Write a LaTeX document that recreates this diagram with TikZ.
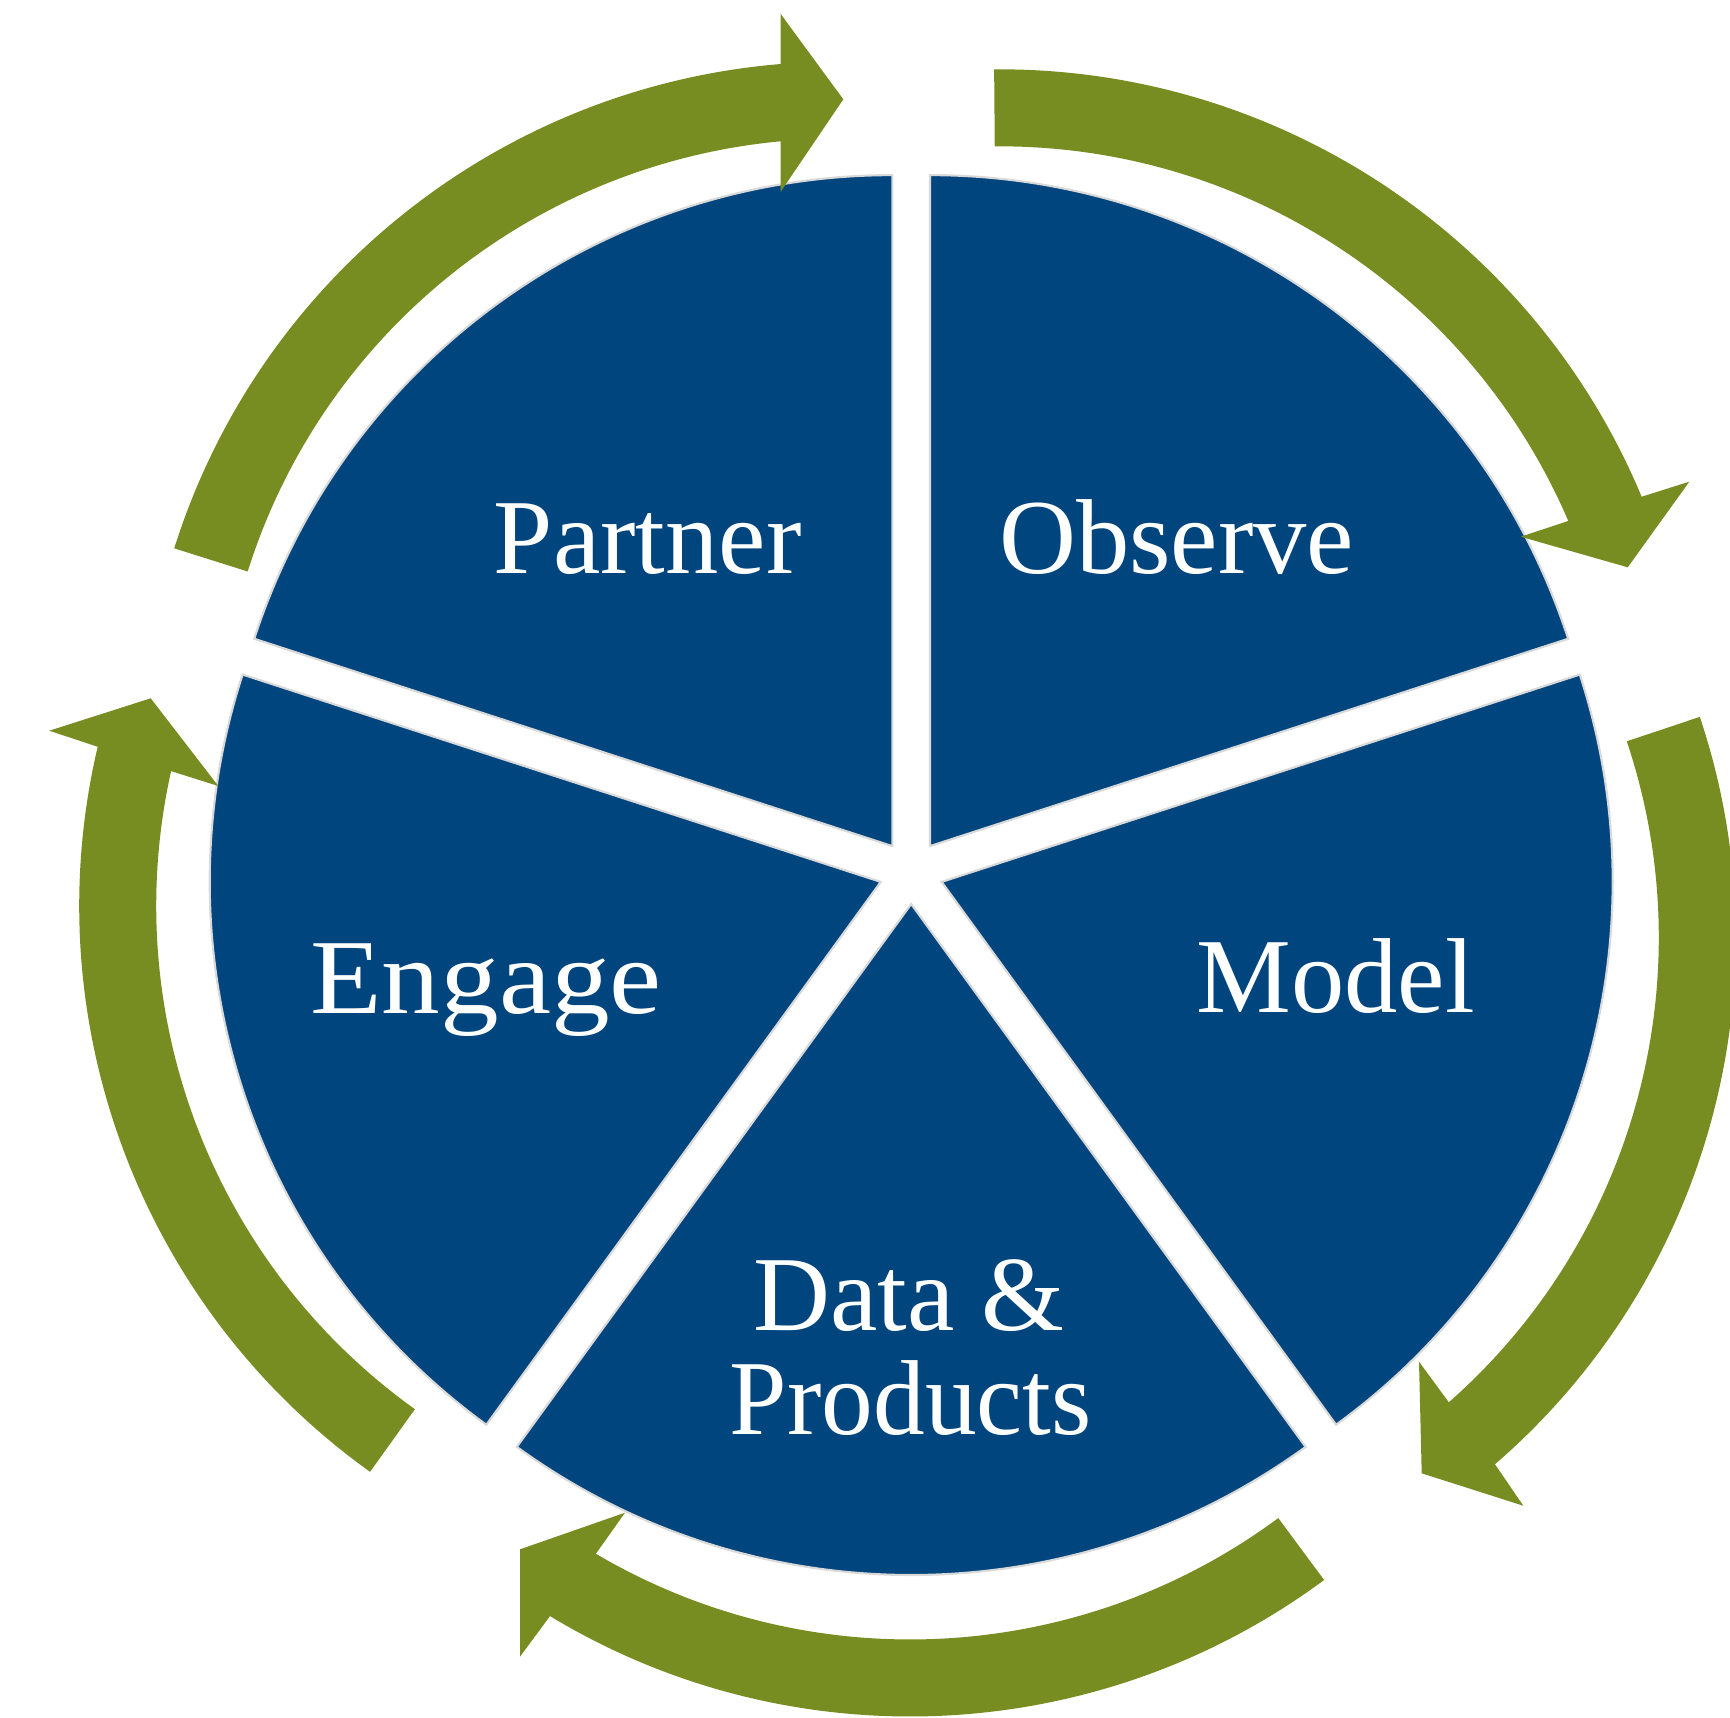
\documentclass[tikz,border=0pt]{standalone}
\usepackage{fontspec}
\setmainfont{Liberation Serif}
\definecolor{pieblue}{RGB}{1,69,126}
\definecolor{arrgreen}{RGB}{120,141,33}
\begin{document}
\begin{tikzpicture}[x=0.01cm,y=-0.01cm,
  slice/.style={fill=pieblue,draw=black!15,line width=0.6pt},
  cyclearrow/.style={fill=arrgreen},
  lbl/.style={text=white,inner sep=0pt,anchor=base,font=\fontsize{30.3}{29.5}\selectfont}]
\fill[white] (0,0) rectangle (1730,1718);
\clip (0,0) rectangle (1730,1718);
\coordinate (C) at (911.2,872);
% pie slices (exploded)
\foreach \a/\b in {-162/-90, -90/-18, -18/54, 54/126, 126/198} {
  \pgfmathsetmacro\m{(\a+\b)/2}
  \filldraw[slice] ([shift={(\m:32)}]C) -- ++(\a:671) arc[start angle=\a, end angle=\b, radius=671] -- cycle;
}
% arrow centres
\coordinate (tlO) at (838.0,757.6);
\coordinate (trO) at (999.6,765.3);
\coordinate (rO) at (1039.8,937.7);
\coordinate (bO) at (910.1,1020.5);
\coordinate (lO) at (775.2,905.9);
% top-left arrow
\fill[cyclearrow] ([shift={(-162.5:696)}]tlO) arc[start angle=-162.5, end angle=-94.72, radius=696]
  -- (780.7,14) -- (843.3,99.3) -- (780.7,191.7)
  -- ([shift={(-95.32:619)}]tlO) arc[start angle=-95.32, end angle=-162.5, radius=619] -- cycle;
% top-right arrow
\fill[cyclearrow] ([shift={(-90.45:696)}]trO) arc[start angle=-90.45, end angle=-22.7, radius=696]
  -- (1689.3,481.7) -- (1627.7,567.3) -- (1520.7,536.7)
  -- ([shift={(-23.25:619)}]trO) arc[start angle=-23.25, end angle=-90.45, radius=619] -- cycle;
% right arrow
\fill[cyclearrow] ([shift={(-18.5:696)}]rO) arc[start angle=-18.5, end angle=49.16, radius=696]
  -- (1523.3,1505.7) -- (1421.7,1473.3) -- (1419,1361.7)
  -- ([shift={(48.64:619)}]rO) arc[start angle=48.64, end angle=-18.5, radius=619] -- cycle;
% bottom arrow
\fill[cyclearrow] ([shift={(53.5:696)}]bO) arc[start angle=53.5, end angle=121.16, radius=696]
  -- (520,1656.7) -- (520,1549.3) -- (625,1512.7)
  -- ([shift={(120.51:619)}]bO) arc[start angle=120.51, end angle=53.5, radius=619] -- cycle;
% left arrow
\fill[cyclearrow] ([shift={(125.6:696)}]lO) arc[start angle=125.6, end angle=193.22, radius=696]
  -- (49.3,730.7) -- (150.7,698.3) -- (218.3,786)
  -- ([shift={(192.58:619)}]lO) arc[start angle=192.58, end angle=125.6, radius=619] -- cycle;
% labels
\node[lbl] (partner) at (647.6,573.7) {Partner};
\node[lbl] (observe) at (1176.7,573.7) {Observe};
\node[lbl] (model) at (1335.6,1012.8) {Model};
\node[lbl] (engage) at (486,1013) {\scalebox{1.1}[1]{Engage}};
\node[lbl] (data) at (909,1330.6) {Data \&};
\node[lbl] (products) at (910.8,1434.3) {\scalebox{0.97}[1]{Products}};
\end{tikzpicture}
\end{document}
